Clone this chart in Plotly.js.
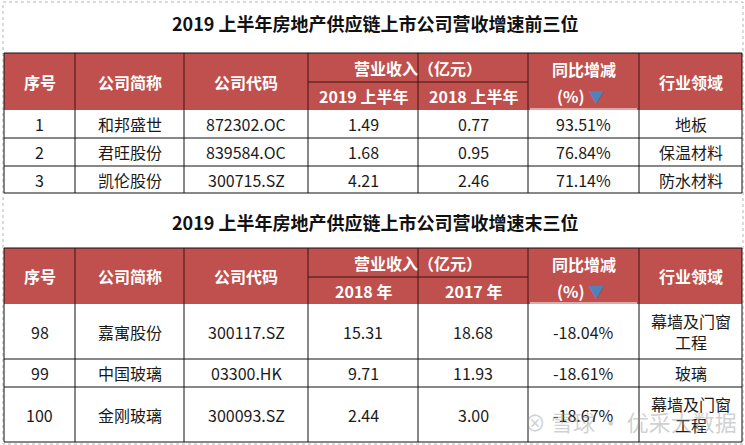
<!DOCTYPE html>
<html>
<head>
<meta charset="utf-8">
<script src="https://cdn.plot.ly/plotly-3.0.1.min.js"></script>
<style>
  body { margin: 0; background: #fff; }
  #chart { width: 745px; height: 445px; }
</style>
</head>
<body>
<div id="chart"></div>
<script>
// 表格数据
var topTitle = '2019 上半年房地产供应链上市公司营收增速前三位';
var bottomTitle = '2019 上半年房地产供应链上市公司营收增速末三位';

var headLeft = ['序号', '公司简称', '公司代码'];
var headRevenue = '营业收入（亿元）';
var headYoy = '同比增减';
var headSector = '行业领域';
var topPeriods = ['2019 上半年', '2018 上半年'];
var bottomPeriods = ['2018 年', '2017 年'];

var topRank = ['1', '2', '3'];
var topName = ['和邦盛世', '君旺股份', '凯伦股份'];
var topCode = ['872302.OC', '839584.OC', '300715.SZ'];
var topRevA = [1.49, 1.68, 4.21];
var topRevB = [0.77, 0.95, 2.46];
var topYoy = [93.51, 76.84, 71.14];
var topSector = ['地板', '保温材料', '防水材料'];

var botRank = ['98', '99', '100'];
var botName = ['嘉寓股份', '中国玻璃', '金刚玻璃'];
var botCode = ['300117.SZ', '03300.HK', '300093.SZ'];
var botRevA = [15.31, 9.71, 2.44];
var botRevB = [18.68, 11.93, 3.00];
var botYoy = [-18.04, -18.61, -18.67];
var botSector = ['幕墙及门窗<br>工程', '玻璃', '幕墙及门窗<br>工程'];

// 版式
var colX = [4, 75, 184, 308, 418, 528, 639, 742];
var red = '#C0504D';
var cjk = 'Noto Sans CJK SC, Microsoft YaHei, sans-serif';
var bodySize = 16;
var headSize = 16;

var shapes = [];
var annotations = [];

function rect(x0, y0, x1, y1, fill, lineColor, width) {
    shapes.push({
        type: 'rect', xref: 'x', yref: 'y', x0: x0, y0: y0, x1: x1, y1: y1,
        fillcolor: fill, line: { color: lineColor, width: width }, layer: 'below'
    });
}

function line(x0, y0, x1, y1, color, width) {
    shapes.push({
        type: 'line', xref: 'x', yref: 'y', x0: x0, y0: y0, x1: x1, y1: y1,
        line: { color: color, width: width }
    });
}

function label(x, y, text, size, color, bold) {
    annotations.push({
        x: x, y: y, xref: 'x', yref: 'y', showarrow: false,
        text: bold ? '<b>' + text + '</b>' : text,
        font: { family: cjk, size: size, color: color },
        xanchor: 'center', yanchor: 'middle'
    });
}

function mid(i) { return (colX[i] + colX[i + 1]) / 2; }

function drawTable(g) {
    // 标题
    label(375, g.titleY, g.title, 18, '#111', true);

    // 表头
    rect(colX[0], g.top, colX[7], g.headBottom, red, red, 0);
    var hm = (g.top + g.headBottom) / 2;
    var sm1 = (g.top + g.split) / 2;
    var sm2 = (g.split + g.headBottom) / 2;
    for (var i = 0; i < 3; i++) label(mid(i), hm, headLeft[i], headSize, '#fff', true);
    label((colX[3] + colX[5]) / 2, sm1, headRevenue, headSize, '#fff', true);
    label(mid(3), sm2, g.periods[0], headSize, '#fff', true);
    label(mid(4), sm2, g.periods[1], headSize, '#fff', true);
    label(mid(5), sm1 + 1, headYoy, headSize, '#fff', true);
    label(mid(5) - 3, sm2, '(%) <span style="color:#4F81BD">▼</span>', headSize, '#fff', true);
    label(mid(6), hm, headSector, headSize, '#fff', true);

    // 表头分隔线
    line(colX[3], g.split, colX[5], g.split, '#3b1414', 1);
    for (var c = 1; c < 7; c++) line(colX[c], g.top, colX[c], g.headBottom, '#3b1414', 1);
    line(colX[5] + 2, g.headBottom - 1, colX[6] - 2, g.headBottom - 1, '#fff', 1);

    // 数据行
    for (var r = 0; r < g.rank.length; r++) {
        var y0 = g.rows[r], y1 = g.rows[r + 1], ym = (y0 + y1) / 2;
        label(mid(0), ym, g.rank[r], bodySize, '#1a1a1a');
        label(mid(1), ym, g.name[r], bodySize, '#1a1a1a');
        label(mid(2), ym, g.code[r], bodySize, '#1a1a1a');
        label(mid(3), ym, g.revA[r].toFixed(2), bodySize, '#1a1a1a');
        label(mid(4), ym, g.revB[r].toFixed(2), bodySize, '#1a1a1a');
        label(mid(5), ym, g.yoy[r].toFixed(2) + '%', bodySize, '#1a1a1a');
        label(mid(6), ym, g.sector[r], bodySize, '#1a1a1a');
        line(colX[0], y1, colX[7], y1, '#111', 1);
    }
    for (var k = 0; k < 8; k++) line(colX[k], g.headBottom, colX[k], g.rows[g.rows.length - 1], '#111', 1);
    line(colX[0], g.top, colX[7], g.top, '#111', 1);
    line(colX[0], g.top, colX[0], g.headBottom, '#111', 1);
    line(colX[7], g.top, colX[7], g.headBottom, '#111', 1);
}

// 外框虚线
shapes.push({
    type: 'rect', xref: 'x', yref: 'y', x0: 3, y0: 2, x1: 743, y1: 444,
    line: { color: '#b5b5b5', width: 1, dash: 'dot' }, layer: 'below'
});

drawTable({
    title: topTitle, titleY: 23, top: 53, split: 82, headBottom: 110,
    rows: [110, 138, 166, 193], periods: topPeriods,
    rank: topRank, name: topName, code: topCode,
    revA: topRevA, revB: topRevB, yoy: topYoy, sector: topSector
});

drawTable({
    title: bottomTitle, titleY: 222, top: 248, split: 277, headBottom: 304,
    rows: [304, 359, 387, 442], periods: bottomPeriods,
    rank: botRank, name: botName, code: botCode,
    revA: botRevA, revB: botRevB, yoy: botYoy, sector: botSector
});

// 水印
annotations.push({
    x: 630, y: 421, xref: 'x', yref: 'y', showarrow: false,
    text: '⊗ 雪球 · 优采大数据',
    font: { family: cjk, size: 22, color: 'rgba(150,150,150,0.45)' },
    xanchor: 'center', yanchor: 'middle'
});

var layout = {
    width: 745, height: 445,
    margin: { l: 0, r: 0, t: 0, b: 0 },
    paper_bgcolor: '#fff', plot_bgcolor: '#fff',
    xaxis: { range: [0, 745], visible: false, fixedrange: true },
    yaxis: { range: [445, 0], visible: false, fixedrange: true },
    shapes: shapes,
    annotations: annotations,
    showlegend: false
};

Plotly.newPlot('chart', [], layout, { displayModeBar: false, staticPlot: true });
</script>
</body>
</html>
